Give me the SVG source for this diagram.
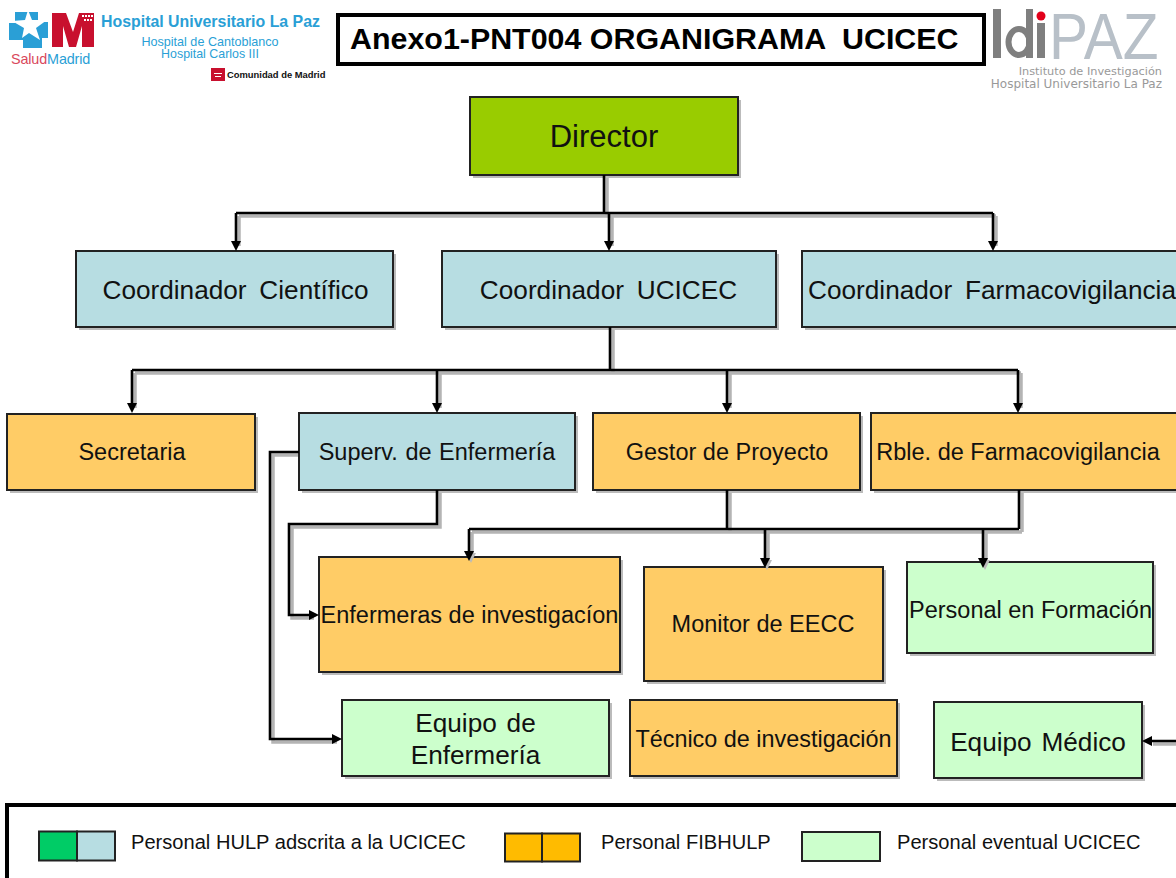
<svg xmlns="http://www.w3.org/2000/svg" width="1176" height="878" viewBox="0 0 1176 878">
<style>
text{font-family:"Liberation Sans",Arial,sans-serif;fill:#111}
.n{text-anchor:middle}
.b{stroke:#222;stroke-width:2}
.s{fill:#bbb;stroke:none}
.g{fill:#9c0}.t{fill:#b7dde2}.o{fill:#fc6}.l{fill:#cfc}
.c{fill:none;stroke:#000;stroke-width:2.6}
.cs{fill:none;stroke:#b4b4b4;stroke-width:3.5}
.a{fill:#000}
.as{fill:#bbb}
.f23{font-size:23.5px}
.f26{font-size:26.2px;word-spacing:2.5px}
.f26w{font-size:26.2px;word-spacing:5.5px}
.lg{font-size:20.1px}
.blue{fill:#2a9fd6}
.idi{fill:#7f7f7f}
</style>
<defs>
<path id="dn" d="M-5,-10H5L0,0Z"/>
<path id="rt" d="M-10,-5V5L0,0Z"/>
<path id="lf" d="M10,-5V5L0,0Z"/>
<path id="wires" d="M604,175V213M236,213H993M236,213V243M609,213V243M993,213V243M610,327V370M132,370H1018M132,370V405M437,370V405M727,370V405M1018,370V405M299,452H270V739H334M437,490V524H289V615H311M727,490V529M469,529H1019M469,529V553M765,529V560M983,529V560M1019,490V529M1176,741H1150"/>
</defs>
<rect width="1176" height="878" fill="#fff"/>

<g id="logo-hulp">
<path d="M15,12H38V22H48V38H42V48H23V40H9V23H15Z" fill="#2a9fd6"/>
<path d="M28,10L32,20L47,20L36,28L40,40L29,33L22,38L24,28L12,21L25,20Z" fill="#fff"/>
<path d="M52,13H66L73,32L79,13H94V47H82V26L76,47H69L63,26V47H52Z" fill="#c8102e"/>
<path d="M82,15h2v2h-2zM85,15h2v2h-2zM88,15h2v2h-2zM91,15h2v2h-2zM84,19h2v2h-2zM87,19h2v2h-2zM90,19h2v2h-2z" fill="#fff"/>
<text x="11" y="64" font-size="14.4" style="fill:#d9485c;letter-spacing:-.15px">Salud<tspan style="fill:#2a9fd6">Madrid</tspan></text>
<text x="101" y="27" font-size="15.9" font-weight="700" class="blue">Hospital Universitario La Paz</text>
<text x="210" y="46" font-size="12.6" class="n blue">Hospital de Cantoblanco</text>
<text x="210" y="58" font-size="12.4" class="n blue">Hospital Carlos III</text>
<rect x="211" y="68" width="14" height="13" fill="#c8102e"/>
<path d="M214,73h8v1h-8zM215,76h6v1h-6z" fill="#fff"/>
<text x="227" y="78" font-size="9.4" font-weight="700">Comunidad de Madrid</text>
</g>

<g id="title">
<rect x="338" y="15" width="646" height="49" fill="#fff" stroke="#000" stroke-width="4"/>
<text x="350" y="49" font-size="30.4" font-weight="700" style="fill:#000">Anexo1-PNT004 ORGANIGRAMA<tspan x="842">UCICEC</tspan></text>
</g>

<g id="logo-idipaz">
<rect class="idi" x="993" y="9" width="8" height="49"/>
<ellipse cx="1019" cy="42" rx="10.500" ry="13" fill="none" stroke="#7f7f7f" stroke-width="6"/>
<rect class="idi" x="1026" y="9" width="7" height="49"/>
<rect class="idi" x="1037" y="23" width="8" height="35"/>
<circle cx="1041" cy="16" r="4.500" fill="#e2001a"/>
<text transform="translate(1049,59) scale(.9,1)" font-size="65" style="fill:#b8c0c8">PAZ</text>
<text x="1162" y="75" font-size="11.300" text-anchor="end" style="font-family:'DejaVu Sans',sans-serif;fill:#999">Instituto de Investigación</text>
<text x="1162" y="88" font-size="12" text-anchor="end" style="font-family:'DejaVu Sans',sans-serif;fill:#999">Hospital Universitario La Paz</text>
</g>

<g id="connector-shadows">
<use href="#wires" class="cs" transform="translate(3,3)"/>
</g>

<g id="director"><rect class="s" x="473" y="100" width="268" height="78"/><rect class="b g" x="470" y="97" width="268" height="78"/><text class="n" x="604" y="147" font-size="31">Director</text></g>
<g id="coord-cientifico"><rect class="s" x="79" y="254" width="317" height="76"/><rect class="b t" x="76" y="251" width="317" height="76"/><text class="n f26w" x="235.500" y="299">Coordinador Científico</text></g>
<g id="coord-ucicec"><rect class="s" x="445" y="254" width="334" height="76"/><rect class="b t" x="442" y="251" width="334" height="76"/><text class="n f26w" x="608.500" y="299">Coordinador UCICEC</text></g>
<g id="coord-farma"><rect class="s" x="805" y="254" width="374" height="76"/><rect class="b t" x="802" y="251" width="376" height="76"/><text class="n f26w" x="992" y="299">Coordinador Farmacovigilancia</text></g>
<g id="secretaria"><rect class="s" x="10" y="417" width="248" height="76"/><rect class="b o" x="7" y="414" width="248" height="76"/><text class="n f23" x="132" y="460">Secretaria</text></g>
<g id="superv"><rect class="s" x="302" y="416" width="276" height="77"/><rect class="b t" x="299" y="413" width="276" height="77"/><text class="n f23" x="437" y="460" style="word-spacing:1px">Superv. de Enfermería</text></g>
<g id="gestor"><rect class="s" x="596" y="416" width="267" height="77"/><rect class="b o" x="593" y="413" width="267" height="77"/><text class="n f23" x="727" y="460">Gestor de Proyecto</text></g>
<g id="rble"><rect class="s" x="874" y="416" width="305" height="77"/><rect class="b o" x="871" y="413" width="307" height="77"/><text class="n f23" x="1018" y="460">Rble. de Farmacovigilancia</text></g>
<g id="enfermeras"><rect class="s" x="322" y="560" width="301" height="115"/><rect class="b o" x="319" y="557" width="301" height="115"/><text class="n f23" x="469.500" y="623">Enfermeras de investigacíon</text></g>
<g id="monitor"><rect class="s" x="647" y="570" width="239" height="114"/><rect class="b o" x="644" y="567" width="239" height="114"/><text class="n f23" x="763" y="632">Monitor de EECC</text></g>
<g id="formacion"><rect class="s" x="910" y="565" width="246" height="91"/><rect class="b l" x="907" y="562" width="246" height="91"/><text class="n f23" x="1030.500" y="618">Personal en Formación</text></g>
<g id="equipo-enf"><rect class="s" x="345" y="703" width="267" height="76"/><rect class="b l" x="342" y="700" width="267" height="76"/><text class="n f26" x="475.500" y="732">Equipo de</text><text class="n f26" x="475.500" y="764">Enfermería</text></g>
<g id="tecnico"><rect class="s" x="633" y="703" width="267" height="76"/><rect class="b o" x="630" y="700" width="267" height="76"/><text class="n" x="763.500" y="747" font-size="23.400">Técnico de investigación</text></g>
<g id="equipo-med"><rect class="s" x="937" y="705" width="208" height="76"/><rect class="b l" x="934" y="702" width="208" height="76"/><text class="n f26" x="1038" y="751">Equipo Médico</text></g>

<g id="connectors">
<use href="#wires" class="c"/>
<g class="as">
<use href="#dn" x="471" y="563"/><use href="#dn" x="767" y="570"/><use href="#dn" x="985" y="570"/>
</g>
<g class="a">
<use href="#dn" x="236" y="251"/><use href="#dn" x="609" y="251"/><use href="#dn" x="993" y="251"/>
<use href="#dn" x="132" y="413"/><use href="#dn" x="437" y="413"/><use href="#dn" x="727" y="413"/><use href="#dn" x="1018" y="413"/>
<use href="#dn" x="469" y="561"/><use href="#dn" x="765" y="568"/><use href="#dn" x="983" y="568"/>
<use href="#rt" x="319" y="615"/><use href="#rt" x="342" y="739"/><use href="#lf" x="1142" y="741"/>
</g>
</g>

<g id="legend">
<rect x="7" y="805" width="1175" height="80" fill="#fff" stroke="#000" stroke-width="4"/>
<rect class="b" x="39" y="831.500" width="38" height="29" fill="#0c6"/><rect class="b t" x="77" y="831.500" width="38" height="29"/>
<text class="lg" x="131" y="849">Personal HULP adscrita a la UCICEC</text>
<rect class="b" x="505" y="833.500" width="37" height="28" fill="#fb0"/><rect class="b" x="542" y="833.500" width="38" height="28" fill="#fb0"/>
<text class="lg" x="601" y="849">Personal FIBHULP</text>
<rect class="b l" x="802" y="832" width="78" height="29"/>
<text class="lg" x="897" y="849">Personal eventual UCICEC</text>
</g>
</svg>
